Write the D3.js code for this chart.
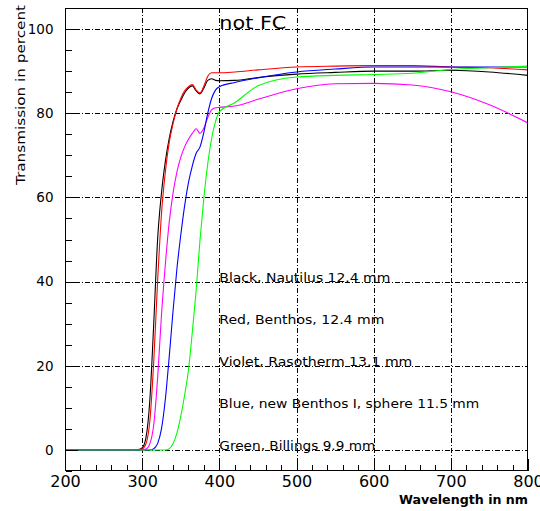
<!DOCTYPE html>
<html><head><meta charset="utf-8">
<script src="https://cdn.jsdelivr.net/npm/d3@7"></script>
<style>body{margin:0;background:#fff}</style></head>
<body><svg id="c" width="540" height="511"></svg>
<script>
const wavelengths=[200,250,280,295,300,305,310,315,320,325,330,335,340,345,350,355,360,365,370,375,380,385,390,395,400,420,450,500,550,600,650,700,750,800];
const blackNautilus=[0,0,0,0.1,0.5,3,12,30,50,61,68.5,74,78,81,83,84.8,86,86.5,85.3,84.6,86,87.8,88.2,87.8,87.7,87.8,88.5,89.3,89.7,90,90,90.2,89.8,89];
const redBenthos=[0,0,0,0,0.2,1.5,7,21,40,56,66,73,77.5,81,83.5,85.3,86.3,86.8,85.5,84.8,86.5,88.8,89.6,89.6,89.6,89.8,90.3,91,91.2,91.3,91.3,91,90.8,90.3];
const violetRasotherm=[0,0,0,0,0,0.2,1.5,6,17,32,44,54,61,66,69.5,72,73.8,75.2,76.3,75.2,76.5,79,80.8,81.3,81.4,81.7,83.3,85.8,87,87.1,86.7,85.1,82,77.7];
const blueNewBenthos=[0,0,0,0,0,0,0,0.3,1.5,5,12,22,33,43,51,58,63.5,67.5,70.5,72,75.5,80,83.5,85.5,86.3,87.3,88.4,89.8,90.5,91,91,91,91,91];
const greenBillings=[0,0,0,0,0,0,0,0,0,0,0,0.3,1.5,4,8,13,19,28,38,50,60,68,74,78,80.3,82.5,86.5,88.6,89,89.2,89.5,90.4,90.8,91.2];
const seriesNames=["black","red","violet","blue","green"];
const seriesColors=["#000000","#ff0000","#ff00ff","#0000ff","#00ff00"];
const xTickValues=[200,300,400,500,600,700,800];
const yTickValues=[0,20,40,60,80,100];
const legendLabels=["Black, Nautilus 12.4 mm","Red, Benthos, 12.4 mm","Violet, Rasotherm 13.1 mm","Blue, new Benthos I, sphere 11.5 mm","Green, Billings 9.9 mm"];
const legendY=[40,30,20,10,0];
const legendWidths=[171,165,193,260,156];
const titleText="not FC";
const xTitle="Wavelength in nm";
const yTitle="Transmission in percent";

const allSeries=[blackNautilus,redBenthos,violetRasotherm,blueNewBenthos,greenBillings];
const svg=d3.select("#c");
const L=65,R=528,T=8,B=471;
const x=d3.scaleLinear().domain([200,800]).range([L,R]);
const y=d3.scaleLinear().domain([-5,105]).range([B,T]);
const font="DejaVu Sans, sans-serif";

svg.append("rect").attr("width",540).attr("height",511).attr("fill","#fff");

// grid
const grid=svg.append("g").attr("stroke","#000").attr("stroke-width",1).attr("stroke-dasharray","5,2,1,2").attr("shape-rendering","crispEdges");
xTickValues.filter(v=>v>200&&v<800).forEach(v=>{
  grid.append("line").attr("x1",Math.round(x(v))+0.5).attr("x2",Math.round(x(v))+0.5).attr("y1",T).attr("y2",B);
});
yTickValues.forEach(v=>{
  grid.append("line").attr("y1",Math.round(y(v))+0.5).attr("y2",Math.round(y(v))+0.5).attr("x1",L).attr("x2",R);
});

// curves
svg.append("clipPath").attr("id","clip").append("rect").attr("x",L).attr("y",T).attr("width",R-L).attr("height",B-T);
const line=d3.line().x((d,i)=>x(wavelengths[i])).y(d=>y(d)).curve(d3.curveMonotoneX);
const cg=svg.append("g").attr("clip-path","url(#clip)");
allSeries.forEach((s,k)=>{
  cg.append("path").datum(s).attr("d",line).attr("fill","none").attr("stroke",seriesColors[k]).attr("stroke-width",1.1);
});

// frame
svg.append("rect").attr("x",L+0.5).attr("y",T+0.5).attr("width",R-L-1).attr("height",B-T-1).attr("fill","none").attr("stroke","#000").attr("stroke-width",1).attr("shape-rendering","crispEdges");

// axes
const xMajor=d3.axisBottom(x).tickValues(xTickValues).tickSizeInner(-12).tickSizeOuter(0).tickPadding(13).tickFormat(d3.format("d"));
const gx=svg.append("g").attr("transform",`translate(0,${B-0.5})`).call(xMajor);
gx.select(".domain").remove();
gx.selectAll("text").attr("font-family",font).attr("font-size",16).attr("fill","#000").attr("dy","0.2em");
const xMinor=d3.axisBottom(x).tickValues(d3.range(200,801,20)).tickSizeInner(-6).tickSizeOuter(0).tickFormat("");
const gxm=svg.append("g").attr("transform",`translate(0,${B-0.5})`).call(xMinor);
gxm.select(".domain").remove();

const yMajor=d3.axisLeft(y).tickValues(yTickValues).tickSizeInner(-12).tickSizeOuter(0).tickPadding(12).tickFormat(d3.format("d"));
const gy=svg.append("g").attr("transform",`translate(${L+0.5},0)`).call(yMajor);
gy.select(".domain").remove();
gy.selectAll("text").attr("font-family",font).attr("font-size",13.5).attr("fill","#000");
const yMinor=d3.axisLeft(y).tickValues(d3.range(-5,106,5)).tickSizeInner(-6).tickSizeOuter(0).tickFormat("");
const gym=svg.append("g").attr("transform",`translate(${L+0.5},0)`).call(yMinor);
gym.select(".domain").remove();
svg.selectAll(".tick line").attr("stroke","#000").attr("shape-rendering","crispEdges");

// titles
svg.append("text").attr("x",R).attr("y",504).attr("text-anchor","end").attr("font-family",font).attr("font-weight","bold").attr("font-size",13).attr("textLength",129).attr("lengthAdjust","spacingAndGlyphs").text(xTitle);
svg.append("text").attr("transform","translate(25,5) rotate(-90)").attr("text-anchor","end").attr("font-family",font).attr("font-size",13).attr("textLength",180).attr("lengthAdjust","spacingAndGlyphs").text(yTitle);
svg.append("text").attr("x",x(400)).attr("y",y(100)-0.5).attr("font-family",font).attr("font-size",17).attr("textLength",67).attr("lengthAdjust","spacingAndGlyphs").text(titleText);

// legend annotations
legendLabels.forEach((t,i)=>{
  svg.append("text").attr("x",x(400)).attr("y",y(legendY[i])).attr("font-family",font).attr("font-size",12).attr("textLength",legendWidths[i]).attr("lengthAdjust","spacingAndGlyphs").attr("fill","#000").text(t);
});
</script></body></html>
